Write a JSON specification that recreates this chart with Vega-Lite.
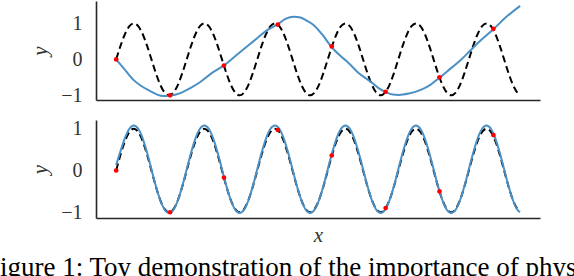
{
  "$schema": "https://vega.github.io/schema/vega-lite/v6.json",
  "autosize": {"type": "none"},
  "padding": {"left": 96, "top": 1, "right": 478, "bottom": 275},
  "background": "white",
  "bounds": "flush",
  "spacing": 20,
  "title": {
    "text": "Figure 1: Toy demonstration of the importance of physics",
    "orient": "bottom",
    "anchor": "start",
    "frame": "group",
    "dx": -111,
    "offset": 10,
    "font": "Liberation Serif",
    "fontSize": 27,
    "fontWeight": "normal",
    "color": "#000000"
  },
  "config": {
    "view": {"stroke": null},
    "axis": {
      "grid": false,
      "ticks": false,
      "domainColor": "#262626",
      "domainWidth": 1.6,
      "labelFont": "Liberation Serif",
      "labelFontSize": 20,
      "labelColor": "#333333",
      "titleFont": "Liberation Serif",
      "titleFontSize": 21,
      "titleFontStyle": "italic",
      "titleFontWeight": "normal",
      "titleColor": "#333333"
    }
  },
  "datasets": {
    "truth": [
      {"x": 0, "s": 0, "f": 0.13},
      {"x": 0.0818, "s": 0.3827, "f": 0.47},
      {"x": 0.1636, "s": 0.7071, "f": 0.78},
      {"x": 0.2454, "s": 0.9239, "f": 1.0},
      {"x": 0.3272, "s": 1, "f": 1.08},
      {"x": 0.409, "s": 0.9239, "f": 1.0},
      {"x": 0.4908, "s": 0.7071, "f": 0.772},
      {"x": 0.5726, "s": 0.3827, "f": 0.432},
      {"x": 0.6544, "s": 0, "f": 0.03},
      {"x": 0.7363, "s": -0.3827, "f": -0.372},
      {"x": 0.8181, "s": -0.7071, "f": -0.712},
      {"x": 0.8999, "s": -0.9239, "f": -0.94},
      {"x": 0.9817, "s": -1, "f": -1.02},
      {"x": 1.0635, "s": -0.9239, "f": -0.94},
      {"x": 1.1453, "s": -0.7071, "f": -0.712},
      {"x": 1.2271, "s": -0.3827, "f": -0.372},
      {"x": 1.3089, "s": 0, "f": 0.03},
      {"x": 1.3907, "s": 0.3827, "f": 0.432},
      {"x": 1.4725, "s": 0.7071, "f": 0.772},
      {"x": 1.5543, "s": 0.9239, "f": 1.0},
      {"x": 1.6361, "s": 1, "f": 1.08},
      {"x": 1.7179, "s": 0.9239, "f": 1.0},
      {"x": 1.7997, "s": 0.7071, "f": 0.772},
      {"x": 1.8815, "s": 0.3827, "f": 0.432},
      {"x": 1.9633, "s": 0, "f": 0.03},
      {"x": 2.0452, "s": -0.3827, "f": -0.372},
      {"x": 2.127, "s": -0.7071, "f": -0.712},
      {"x": 2.2088, "s": -0.9239, "f": -0.94},
      {"x": 2.2906, "s": -1, "f": -1.02},
      {"x": 2.3724, "s": -0.9239, "f": -0.94},
      {"x": 2.4542, "s": -0.7071, "f": -0.712},
      {"x": 2.536, "s": -0.3827, "f": -0.372},
      {"x": 2.6178, "s": 0, "f": 0.03},
      {"x": 2.6996, "s": 0.3827, "f": 0.432},
      {"x": 2.7814, "s": 0.7071, "f": 0.772},
      {"x": 2.8632, "s": 0.9239, "f": 1.0},
      {"x": 2.945, "s": 1, "f": 1.08},
      {"x": 3.0268, "s": 0.9239, "f": 1.0},
      {"x": 3.1086, "s": 0.7071, "f": 0.772},
      {"x": 3.1904, "s": 0.3827, "f": 0.432},
      {"x": 3.2722, "s": 0, "f": 0.03},
      {"x": 3.354, "s": -0.3827, "f": -0.372},
      {"x": 3.4359, "s": -0.7071, "f": -0.712},
      {"x": 3.5177, "s": -0.9239, "f": -0.94},
      {"x": 3.5995, "s": -1, "f": -1.02},
      {"x": 3.6813, "s": -0.9239, "f": -0.94},
      {"x": 3.7631, "s": -0.7071, "f": -0.712},
      {"x": 3.8449, "s": -0.3827, "f": -0.372},
      {"x": 3.9267, "s": 0, "f": 0.03},
      {"x": 4.0085, "s": 0.3827, "f": 0.432},
      {"x": 4.0903, "s": 0.7071, "f": 0.772},
      {"x": 4.1721, "s": 0.9239, "f": 1.0},
      {"x": 4.2539, "s": 1, "f": 1.08},
      {"x": 4.3357, "s": 0.9239, "f": 1.0},
      {"x": 4.4175, "s": 0.7071, "f": 0.772},
      {"x": 4.4993, "s": 0.3827, "f": 0.432},
      {"x": 4.5811, "s": 0, "f": 0.03},
      {"x": 4.6629, "s": -0.3827, "f": -0.372},
      {"x": 4.7447, "s": -0.7071, "f": -0.712},
      {"x": 4.8266, "s": -0.9239, "f": -0.94},
      {"x": 4.9084, "s": -1, "f": -1.02},
      {"x": 4.9902, "s": -0.9239, "f": -0.94},
      {"x": 5.072, "s": -0.7071, "f": -0.712},
      {"x": 5.1538, "s": -0.3827, "f": -0.372},
      {"x": 5.2356, "s": 0, "f": 0.03},
      {"x": 5.3174, "s": 0.3827, "f": 0.432},
      {"x": 5.3992, "s": 0.7071, "f": 0.772},
      {"x": 5.481, "s": 0.9239, "f": 1.0},
      {"x": 5.5628, "s": 1, "f": 1.08},
      {"x": 5.6446, "s": 0.9239, "f": 1.0},
      {"x": 5.7264, "s": 0.7071, "f": 0.772},
      {"x": 5.8082, "s": 0.3827, "f": 0.432},
      {"x": 5.89, "s": 0, "f": 0.03},
      {"x": 5.9718, "s": -0.3827, "f": -0.372},
      {"x": 6.0536, "s": -0.7071, "f": -0.712},
      {"x": 6.1354, "s": -0.9239, "f": -0.94},
      {"x": 6.2173, "s": -1, "f": -1.02},
      {"x": 6.2991, "s": -0.9239, "f": -0.94},
      {"x": 6.3809, "s": -0.7071, "f": -0.712},
      {"x": 6.4627, "s": -0.3827, "f": -0.372},
      {"x": 6.5445, "s": 0, "f": 0.03},
      {"x": 6.6263, "s": 0.3827, "f": 0.432},
      {"x": 6.7081, "s": 0.7071, "f": 0.772},
      {"x": 6.7899, "s": 0.9239, "f": 1.0},
      {"x": 6.8717, "s": 1, "f": 1.08},
      {"x": 6.9535, "s": 0.9239, "f": 1.0},
      {"x": 7.0353, "s": 0.7071, "f": 0.772},
      {"x": 7.1171, "s": 0.3827, "f": 0.432},
      {"x": 7.1989, "s": 0, "f": 0.03},
      {"x": 7.2807, "s": -0.3827, "f": -0.372},
      {"x": 7.3625, "s": -0.7071, "f": -0.712},
      {"x": 7.4443, "s": -0.9239, "f": -0.94},
      {"x": 7.49, "s": -0.985, "f": -1.0}
    ],
    "fitTop": [
      {"x": 0, "y": 0},
      {"x": 0.167, "y": -0.3},
      {"x": 0.32, "y": -0.57},
      {"x": 0.465, "y": -0.74},
      {"x": 0.632, "y": -0.88},
      {"x": 0.762, "y": -0.98},
      {"x": 0.874, "y": -1.02},
      {"x": 1.0, "y": -1.01},
      {"x": 1.19, "y": -0.94},
      {"x": 1.375, "y": -0.8},
      {"x": 1.561, "y": -0.63},
      {"x": 1.766, "y": -0.39},
      {"x": 1.994, "y": -0.175},
      {"x": 2.212, "y": 0.095},
      {"x": 2.416, "y": 0.345},
      {"x": 2.621, "y": 0.596},
      {"x": 2.807, "y": 0.82},
      {"x": 2.998, "y": 0.978},
      {"x": 3.141, "y": 1.125},
      {"x": 3.296, "y": 1.19},
      {"x": 3.42, "y": 1.167},
      {"x": 3.532, "y": 1.08},
      {"x": 3.662, "y": 0.958},
      {"x": 3.829, "y": 0.68},
      {"x": 3.996, "y": 0.345},
      {"x": 4.164, "y": 0.095},
      {"x": 4.288, "y": -0.064},
      {"x": 4.498, "y": -0.38},
      {"x": 4.721, "y": -0.62},
      {"x": 4.87, "y": -0.8},
      {"x": 5.0, "y": -0.91},
      {"x": 5.13, "y": -0.98},
      {"x": 5.247, "y": -0.99},
      {"x": 5.43, "y": -0.95},
      {"x": 5.65, "y": -0.85},
      {"x": 5.836, "y": -0.7},
      {"x": 6.0, "y": -0.51},
      {"x": 6.208, "y": -0.25},
      {"x": 6.394, "y": -0.017},
      {"x": 6.58, "y": 0.26},
      {"x": 6.766, "y": 0.53},
      {"x": 7.0, "y": 0.84},
      {"x": 7.23, "y": 1.17},
      {"x": 7.496, "y": 1.49}
    ],
    "obs": [
      {"x": 0, "y": 0},
      {"x": 1, "y": -1.0},
      {"x": 2, "y": -0.17},
      {"x": 3, "y": 0.97},
      {"x": 4, "y": 0.36},
      {"x": 5, "y": -0.9},
      {"x": 6, "y": -0.5},
      {"x": 7, "y": 0.85}
    ]
  },
  "vconcat": [
    {
      "width": 444,
      "height": 99,
      "encoding": {
        "x": {"field": "x", "type": "quantitative", "scale": {"domain": [-0.3745, 7.8645], "nice": false, "zero": false}, "axis": {"labels": false, "title": null}}
      },
      "layer": [
        {
          "data": {"name": "truth"},
          "mark": {"type": "line", "color": "#000000", "strokeWidth": 2, "strokeDash": [7, 4], "interpolate": "monotone"},
          "encoding": {"y": {"field": "s", "type": "quantitative", "scale": {"domain": [-1.13, 1.625], "nice": false, "zero": false}, "axis": {"values": [-1, 0, 1], "title": "y", "labelPadding": 14, "titlePadding": 10}}}
        },
        {
          "data": {"name": "fitTop"},
          "mark": {"type": "line", "color": "#4a90c4", "strokeWidth": 2, "interpolate": "monotone"},
          "encoding": {"y": {"field": "y", "type": "quantitative"}}
        },
        {
          "data": {"name": "obs"},
          "mark": {"type": "circle", "color": "#ff0000", "opacity": 1, "size": 22},
          "encoding": {"y": {"field": "y", "type": "quantitative"}}
        }
      ]
    },
    {
      "width": 444,
      "height": 98,
      "encoding": {
        "x": {"field": "x", "type": "quantitative", "scale": {"domain": [-0.3745, 7.8645], "nice": false, "zero": false}, "axis": {"labels": false, "title": "x", "titlePadding": 6}}
      },
      "layer": [
        {
          "data": {"name": "truth"},
          "mark": {"type": "line", "color": "#000000", "strokeWidth": 2, "strokeDash": [7, 4], "interpolate": "monotone"},
          "encoding": {"y": {"field": "s", "type": "quantitative", "scale": {"domain": [-1.137, 1.21], "nice": false, "zero": false}, "axis": {"values": [-1, 0, 1], "title": "y", "labelPadding": 14, "titlePadding": 10}}}
        },
        {
          "data": {"name": "truth"},
          "mark": {"type": "line", "color": "#4a90c4", "strokeWidth": 2, "interpolate": "monotone"},
          "encoding": {"y": {"field": "f", "type": "quantitative"}}
        },
        {
          "data": {"name": "obs"},
          "mark": {"type": "circle", "color": "#ff0000", "opacity": 1, "size": 22},
          "encoding": {"y": {"field": "y", "type": "quantitative"}}
        }
      ]
    }
  ]
}
